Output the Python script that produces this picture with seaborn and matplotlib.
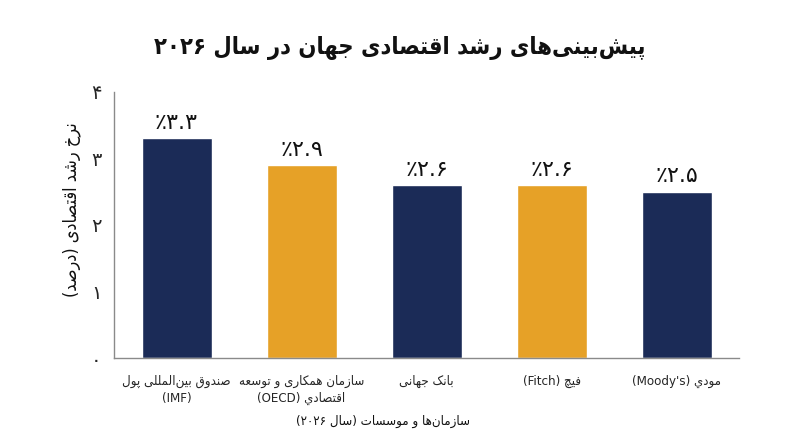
import re
import matplotlib
matplotlib.use("Agg")
import matplotlib.pyplot as plt
import seaborn as sns
import pandas as pd

# ---------------- data ----------------
organizations = [
    "صندوق بین‌المللی پول\n(IMF)",
    "سازمان همکاری و توسعه\nاقتصادي (OECD)",
    "بانک جهانی",
    "فیچ (Fitch)",
    "مودي (Moody's)",
]
growth = [3.3, 2.9, 2.6, 2.6, 2.5]
value_labels = ["۳.۳", "۲.۹", "۲.۶", "۲.۶", "۲.۵"]
bar_colors = ["#1b2b57", "#e6a127", "#1b2b57", "#e6a127", "#1b2b57"]
y_ticks = [0, 1, 2, 3, 4]
y_tick_labels = ["۰", "۱", "۲", "۳", "۴"]
title = "پیش‌بینی‌های رشد اقتصادی جهان در سال ۲۰۲۶"
x_title = "سازمان‌ها و موسسات (سال ۲۰۲۶)"
y_title = "نرخ رشد اقتصادی (درصد)"

# ---------------- minimal Persian shaping + bidi ----------------
FORMS = {  # isolated, final, initial, medial
    "ا": (0xFE8D, 0xFE8E, None, None), "آ": (0xFE81, 0xFE82, None, None),
    "ب": (0xFE8F, 0xFE90, 0xFE91, 0xFE92), "پ": (0xFB56, 0xFB57, 0xFB58, 0xFB59),
    "ت": (0xFE95, 0xFE96, 0xFE97, 0xFE98), "ث": (0xFE99, 0xFE9A, 0xFE9B, 0xFE9C),
    "ج": (0xFE9D, 0xFE9E, 0xFE9F, 0xFEA0), "چ": (0xFB7A, 0xFB7B, 0xFB7C, 0xFB7D),
    "ح": (0xFEA1, 0xFEA2, 0xFEA3, 0xFEA4), "خ": (0xFEA5, 0xFEA6, 0xFEA7, 0xFEA8),
    "د": (0xFEA9, 0xFEAA, None, None), "ذ": (0xFEAB, 0xFEAC, None, None),
    "ر": (0xFEAD, 0xFEAE, None, None), "ز": (0xFEAF, 0xFEB0, None, None),
    "ژ": (0xFB8A, 0xFB8B, None, None),
    "س": (0xFEB1, 0xFEB2, 0xFEB3, 0xFEB4), "ش": (0xFEB5, 0xFEB6, 0xFEB7, 0xFEB8),
    "ص": (0xFEB9, 0xFEBA, 0xFEBB, 0xFEBC), "ض": (0xFEBD, 0xFEBE, 0xFEBF, 0xFEC0),
    "ط": (0xFEC1, 0xFEC2, 0xFEC3, 0xFEC4), "ظ": (0xFEC5, 0xFEC6, 0xFEC7, 0xFEC8),
    "ع": (0xFEC9, 0xFECA, 0xFECB, 0xFECC), "غ": (0xFECD, 0xFECE, 0xFECF, 0xFED0),
    "ف": (0xFED1, 0xFED2, 0xFED3, 0xFED4), "ق": (0xFED5, 0xFED6, 0xFED7, 0xFED8),
    "ک": (0xFB8E, 0xFB8F, 0xFB90, 0xFB91), "گ": (0xFB92, 0xFB93, 0xFB94, 0xFB95),
    "ل": (0xFEDD, 0xFEDE, 0xFEDF, 0xFEE0), "م": (0xFEE1, 0xFEE2, 0xFEE3, 0xFEE4),
    "ن": (0xFEE5, 0xFEE6, 0xFEE7, 0xFEE8), "ه": (0xFEE9, 0xFEEA, 0xFEEB, 0xFEEC),
    "و": (0xFEED, 0xFEEE, None, None),
    "ی": (0xFBFC, 0xFBFD, 0xFBFE, 0xFBFF), "ي": (0xFEF1, 0xFEF2, 0xFEF3, 0xFEF4),
}


def _dual(c):
    return c in FORMS and FORMS[c][2] is not None


def shape_line(s):
    out = []
    n = len(s)
    for i, c in enumerate(s):
        if c == "\u200c":
            continue
        if c not in FORMS:
            out.append(c)
            continue
        prev = s[i - 1] if i > 0 else ""
        nxt = s[i + 1] if i + 1 < n else ""
        jp = _dual(prev)
        jn = _dual(c) and nxt in FORMS
        iso, fin, ini, med = FORMS[c]
        if jp and jn:
            code = med
        elif jp:
            code = fin
        elif jn:
            code = ini
        else:
            code = iso
        out.append(chr(code))
    vis = "".join(out)[::-1]
    vis = vis.translate(str.maketrans("()", ")("))
    vis = re.sub(r"[A-Za-z0-9۰-۹'.](?:[A-Za-z0-9۰-۹'. ]*[A-Za-z0-9۰-۹'.])?",
                 lambda m: m.group(0)[::-1], vis)
    return vis


def fa(s):
    return "\n".join(shape_line(line) for line in s.split("\n"))


# ---------------- plot ----------------
sns.set_theme(style="white")
plt.rcParams["font.family"] = ["DejaVu Sans"]

df = pd.DataFrame({"org": [fa(o) for o in organizations], "growth": growth})

fig = plt.figure(figsize=(8, 4.47), dpi=100)
ax = fig.add_axes([0.1425, 0.199, 0.7815, 0.596])

sns.barplot(data=df, x="org", y="growth", hue="org", palette=bar_colors,
            legend=False, width=0.56, ax=ax, saturation=1)

ax.set_ylim(0, 4)
ax.set_xlim(-0.5, 4.5)
ax.set_yticks(y_ticks)
ax.set_yticklabels(y_tick_labels, fontsize=14)
ax.tick_params(axis="both", length=0)
ax.tick_params(axis="y", pad=9)
ax.tick_params(axis="x", pad=12)
for t in ax.get_xticklabels():
    t.set_fontsize(9.5)
    t.set_fontstretch("condensed")
    t.set_linespacing(1.4)

for spine in ["top", "right"]:
    ax.spines[spine].set_visible(False)
for spine in ["left", "bottom"]:
    ax.spines[spine].set_color("#8a8a8a")
    ax.spines[spine].set_linewidth(1.0)

for i, (v, lab) in enumerate(zip(growth, value_labels)):
    ax.text(i, v + 0.08, "٪" + lab, ha="center", va="bottom", fontsize=16,
            color="#111111")

ax.set_xlabel(fa(x_title), fontsize=9.5, color="#111111",
              fontstretch="condensed", va="center")
ax.xaxis.set_label_coords(0.43, -0.237)
ax.set_ylabel(fa(y_title), fontsize=13, color="#111111",
              fontstretch="condensed", va="center")
ax.yaxis.set_label_coords(-0.067, 0.556)
fig.suptitle(fa(title), fontsize=17, fontweight="bold", y=0.92, x=0.5,
             color="#111111", fontstretch="condensed")

fig.savefig("out.png", dpi=100, facecolor="white")
